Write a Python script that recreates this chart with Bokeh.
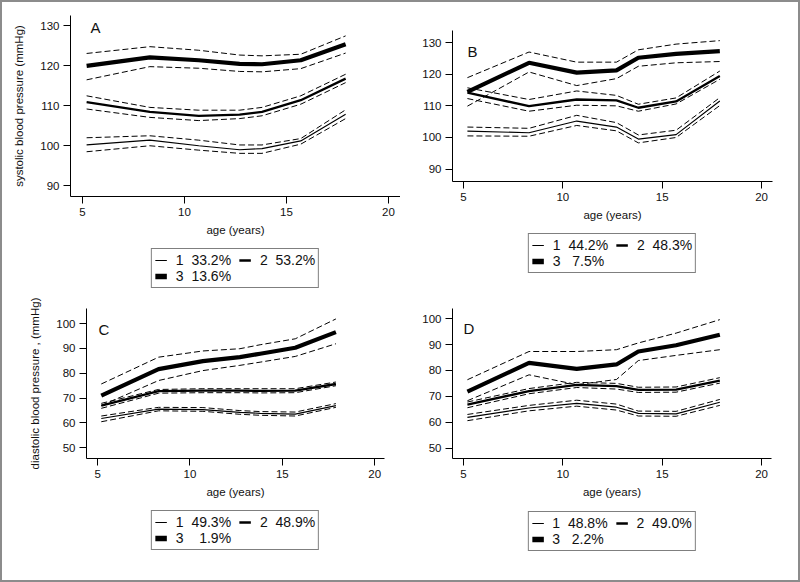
from bokeh.plotting import figure
from bokeh.models import Range1d, FixedTicker, Legend, LegendItem, Label
from bokeh.layouts import column, row
from bokeh.embed import file_html
from bokeh.resources import INLINE

# ---------------- data ----------------
ages = [5.2, 8.3, 10.7, 12.7, 13.8, 15.7, 17.9]
x_ticks = [5, 10, 15, 20]
sbp_ticks = [90, 100, 110, 120, 130]
dbp_ticks = [50, 60, 70, 80, 90, 100]

# Panel A
A_g1 = [100.2, 101.4, 100.0, 99.0, 99.3, 101.2, 107.9]
A_g1_hi = [102.0, 102.5, 101.4, 100.2, 100.2, 101.8, 109.0]
A_g1_lo = [98.5, 100.0, 98.9, 98.1, 98.1, 100.4, 106.8]
A_g2 = [110.9, 108.5, 107.5, 107.8, 108.5, 111.4, 116.8]
A_g2_hi = [112.5, 109.6, 108.9, 108.9, 109.6, 112.5, 117.9]
A_g2_lo = [109.2, 107.1, 106.3, 106.8, 107.5, 110.4, 115.8]
A_g3 = [120.0, 122.1, 121.4, 120.5, 120.4, 121.4, 125.4]
A_g3_hi = [123.1, 124.8, 123.9, 122.7, 122.5, 122.9, 127.5]
A_g3_lo = [116.5, 119.8, 119.4, 118.6, 118.5, 119.3, 123.2]
A_labels = ["1  33.2%  ", "2  53.2%", "3  13.6%  "]

# Panel B
B_g1 = [102.0, 101.5, 105.2, 103.3, 99.5, 100.9, 111.5]
B_g1_hi = [103.3, 102.9, 107.0, 104.7, 100.8, 102.3, 112.6]
B_g1_lo = [100.5, 100.4, 103.8, 102.1, 98.3, 100.0, 110.1]
B_g2 = [114.2, 109.9, 112.0, 111.7, 109.4, 111.4, 119.4]
B_g2_hi = [115.7, 112.0, 114.7, 113.3, 110.5, 112.5, 121.0]
B_g2_lo = [112.3, 108.3, 110.2, 110.0, 108.3, 110.6, 118.4]
B_g3 = [114.4, 123.6, 120.5, 121.2, 125.2, 126.4, 127.3]
B_g3_hi = [118.9, 127.0, 123.8, 123.8, 127.7, 129.5, 130.6]
B_g3_lo = [109.9, 120.7, 116.4, 118.6, 122.5, 123.6, 124.0]
B_labels = ["1  44.2%  ", "2  48.3%", "3   7.5%  "]

# Panel C
C_g1 = [61.8, 65.6, 65.4, 64.3, 63.9, 63.6, 67.0]
C_g1_hi = [62.8, 66.3, 66.2, 65.0, 64.6, 64.4, 67.8]
C_g1_lo = [60.5, 64.9, 64.7, 63.5, 63.1, 62.8, 66.3]
C_g2 = [67.0, 72.8, 73.0, 73.0, 72.9, 73.0, 75.7]
C_g2_hi = [67.9, 73.5, 73.8, 73.8, 73.8, 73.8, 76.5]
C_g2_lo = [65.9, 72.0, 72.2, 72.2, 72.1, 72.2, 75.0]
C_g3 = [71.0, 81.7, 84.9, 86.5, 87.9, 90.3, 96.6]
C_g3_hi = [75.7, 86.5, 89.0, 89.9, 91.5, 93.9, 101.9]
C_g3_lo = [67.0, 77.1, 81.1, 83.2, 84.5, 86.8, 91.9]
C_labels = ["1  49.3%  ", "2  48.9%", "3    1.9%  "]

# Panel D
D_g1 = [61.9, 65.5, 67.3, 65.8, 63.4, 63.2, 67.7]
D_g1_hi = [63.0, 66.5, 68.5, 67.0, 64.3, 64.2, 68.8]
D_g1_lo = [60.6, 64.4, 66.2, 64.7, 62.4, 62.3, 66.5]
D_g2 = [66.8, 72.0, 74.4, 73.9, 72.5, 72.6, 76.1]
D_g2_hi = [67.8, 73.0, 75.4, 75.0, 73.5, 73.6, 77.2]
D_g2_lo = [65.6, 71.0, 73.4, 72.8, 71.5, 71.6, 75.1]
D_g3 = [71.8, 82.9, 80.6, 82.3, 87.3, 89.7, 93.8]
D_g3_hi = [76.4, 87.3, 87.3, 88.0, 90.6, 94.4, 99.6]
D_g3_lo = [68.3, 78.3, 74.5, 76.5, 83.8, 85.8, 88.0]
D_labels = ["1  48.8%  ", "2  49.0%", "3   2.2%  "]

# legend key line widths for groups 1, 2, 3
key_widths = [1.2, 2.5, 5.5]

FONT = "Liberation Sans"
TXT = "#111111"
FS = "11.5px"


def make_panel(letter, series, yr, xr, yticks, ylabel, w, h, fl, ft, fw, fh, letter_dx, letter_dy):
    p = figure(width=w, height=h, x_range=Range1d(*xr), y_range=Range1d(*yr),
               output_backend="svg", toolbar_location=None,
               min_border_left=fl, min_border_top=ft,
               min_border_right=w - fl - fw, min_border_bottom=h - ft - fh)
    p.outline_line_color = None
    p.xgrid.visible = False
    p.ygrid.visible = False

    widths = [1.2, 2.3, 4.2]
    for i, (m, hi, lo) in enumerate(series):
        p.line(ages, hi, line_color="black", line_width=1, line_dash="6 3")
        p.line(ages, lo, line_color="black", line_width=1, line_dash="6 3")
        p.line(ages, m, line_color="black", line_width=widths[i])

    for ax in p.xaxis + p.yaxis:
        ax.axis_line_color = "black"
        ax.axis_line_width = 1
        ax.major_tick_line_color = "black"
        ax.major_tick_out = 7
        ax.major_tick_in = 0
        ax.minor_tick_out = 0
        ax.minor_tick_in = 0
        ax.major_label_text_font = FONT
        ax.major_label_text_font_size = FS
        ax.major_label_text_color = TXT
        ax.axis_label_text_font = FONT
        ax.axis_label_text_font_size = FS
        ax.axis_label_text_color = TXT
        ax.axis_label_text_font_style = "normal"
    p.xaxis.ticker = FixedTicker(ticks=x_ticks)
    p.yaxis.ticker = FixedTicker(ticks=yticks)
    p.xaxis.major_label_standoff = 4
    p.xaxis.axis_label = "age (years)"
    p.xaxis.axis_label_standoff = 5
    p.yaxis.major_label_standoff = 4
    if ylabel:
        p.yaxis.axis_label = ylabel
        p.yaxis.axis_label_standoff = 12

    p.add_layout(Label(x=letter_dx, y=fh - letter_dy, x_units="screen", y_units="screen",
                       text=letter, text_font=FONT, text_font_size="15px",
                       text_color=TXT, text_baseline="alphabetic"))
    return p


def make_legend(labels, w, h, fl, fw, top):
    q = figure(width=w, height=h, x_range=Range1d(0, 1), y_range=Range1d(0, 1),
               x_axis_type=None, y_axis_type=None, output_backend="svg",
               toolbar_location=None, min_border_left=fl, min_border_right=w - fl - fw,
               min_border_top=0, min_border_bottom=0)
    q.outline_line_color = None
    # one-point lines: they draw nothing in the box, only their legend keys
    rs = [q.line(x=[-5], y=[-5], line_color="black", line_width=lw) for lw in key_widths]
    items = [LegendItem(label=labels[i], renderers=[rs[i]]) for i in range(3)]
    leg = Legend(items=items, orientation="horizontal", ncols=2,
                 location="top_center", border_line_color="black", border_line_width=1,
                 label_text_font=FONT, label_text_font_size="14px", label_text_color=TXT,
                 glyph_width=12, glyph_height=10, label_height=10, label_standoff=9,
                 spacing=0, padding=3, margin=top, background_fill_color="white")
    q.add_layout(leg)
    return q


pA = make_panel("A", [(A_g1, A_g1_hi, A_g1_lo), (A_g2, A_g2_hi, A_g2_lo), (A_g3, A_g3_hi, A_g3_lo)],
                (87.3, 132.6), (4.41, 20.59), sbp_ticks, "systolic blood pressure (mmHg)",
                398, 242, 68, 13, 330, 181, 20, 12)
lA = make_legend(A_labels, 398, 46, 68, 330, 4)
pB = make_panel("B", [(B_g1, B_g1_hi, B_g1_lo), (B_g2, B_g2_hi, B_g2_lo), (B_g3, B_g3_hi, B_g3_lo)],
                (86.1, 133.8), (4.45, 20.55), sbp_ticks, None,
                398, 227, 52, 28, 320, 151, 15, 21)
lB = make_legend(B_labels, 398, 61, 52, 320, 4)
pC = make_panel("C", [(C_g1, C_g1_hi, C_g1_lo), (C_g2, C_g2_hi, C_g2_lo), (C_g3, C_g3_hi, C_g3_lo)],
                (45.7, 106.1), (4.40, 20.53), dbp_ticks, "diastolic blood pressure , (mmHg)",
                398, 216, 84, 18, 298, 150, 12, 21)
lC = make_legend(C_labels, 398, 74, 84, 298, 4)
pD = make_panel("D", [(D_g1, D_g1_hi, D_g1_lo), (D_g2, D_g2_hi, D_g2_lo), (D_g3, D_g3_hi, D_g3_lo)],
                (46.0, 103.9), (4.45, 20.50), dbp_ticks, None,
                398, 216, 52, 18, 319, 150, 11, 20)
lD = make_legend(D_labels, 398, 74, 52, 319, 5)

layout = column(row(column(pA, lA), column(pB, lB)),
                row(column(pC, lC), column(pD, lD)),
                styles={"border": "2px solid #8c8c8c"})
open("out.html", "w").write(file_html(layout, INLINE))
